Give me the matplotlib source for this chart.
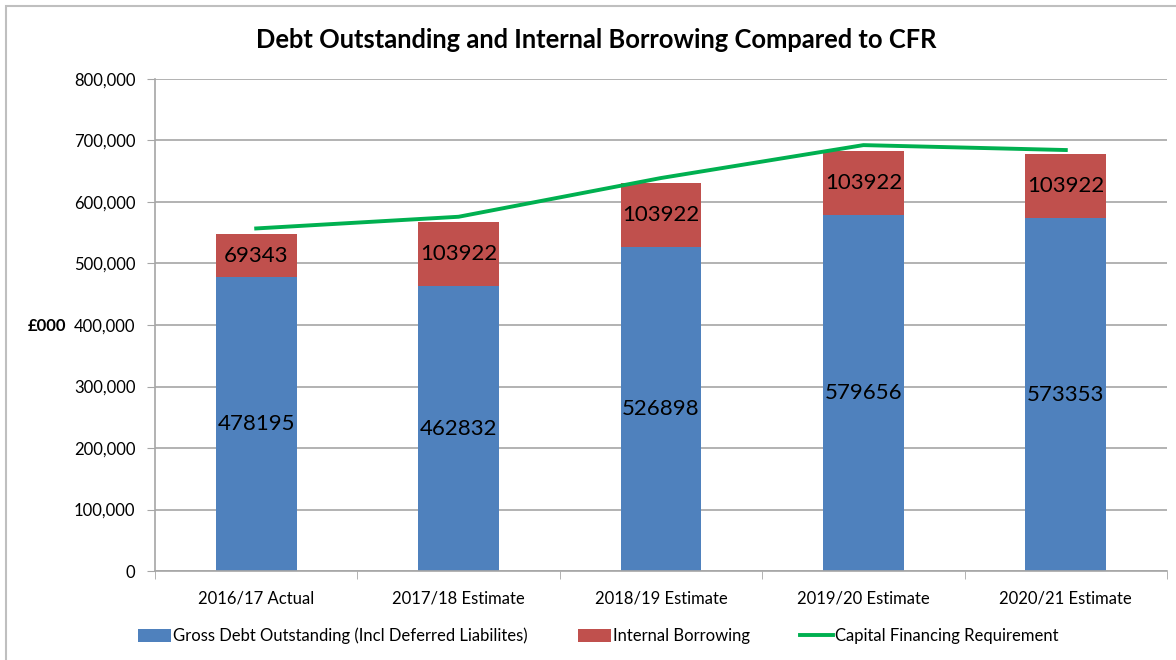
import matplotlib
matplotlib.use("Agg")
import matplotlib.pyplot as plt
from matplotlib.patches import Rectangle
from matplotlib.lines import Line2D
import numpy as np

categories = ["2016/17 Actual", "2017/18 Estimate", "2018/19 Estimate", "2019/20 Estimate", "2020/21 Estimate"]
gross_debt = [478195, 462832, 526898, 579656, 573353]
internal_borrowing = [69343, 103922, 103922, 103922, 103922]
cfr = [557000, 576000, 639000, 692500, 684500]

BLUE = "#4F81BD"
RED = "#C0504D"
GREEN = "#00B050"
FONT = "Lato"

plt.rcParams['font.family'] = [FONT, 'DejaVu Sans']

W, H = 1176, 660
fig = plt.figure(figsize=(W / 100, H / 100), dpi=100)
ax = fig.add_axes([155 / W, 1 - 571 / H, (1167 - 155) / W, (571 - 79) / H])

x = np.arange(len(categories))
bw = 0.4
b1 = ax.bar(x, gross_debt, bw, color=BLUE, label="Gross Debt Outstanding (Incl Deferred Liabilites)", zorder=2)
b2 = ax.bar(x, internal_borrowing, bw, bottom=gross_debt, color=RED, label="Internal Borrowing", zorder=2)
l1, = ax.plot(x, cfr, color=GREEN, lw=2.8, label="Capital Financing Requirement", zorder=3)

for i in range(len(categories)):
    ax.text(x[i], gross_debt[i] / 2, str(gross_debt[i]), ha="center", va="center", fontsize=16, zorder=4)
    ax.text(x[i], gross_debt[i] + internal_borrowing[i] / 2, str(internal_borrowing[i]),
            ha="center", va="center", fontsize=16, zorder=4)

ax.set_xlim(-0.5, len(categories) - 0.5)
ax.set_ylim(0, 800000)
ax.set_yticks(np.arange(0, 800001, 100000))
ax.set_yticklabels([f"{v:,}" for v in range(0, 800001, 100000)], fontsize=12)
ax.yaxis.grid(True, color="#A6A6A6", lw=1.2, zorder=0)
ax.set_axisbelow(True)

ax.set_xticks(x)
ax.set_xticklabels(categories, fontsize=12)
ax.tick_params(axis="x", length=0, pad=14)
ax.set_xticks(np.arange(-0.5, len(categories), 1), minor=True)
ax.tick_params(axis="x", which="minor", length=6, color="#A6A6A6", direction="out")
ax.tick_params(axis="y", length=6, color="#A6A6A6", direction="out", pad=8)

for s in ["top", "right"]:
    ax.spines[s].set_visible(False)
for s in ["left", "bottom"]:
    ax.spines[s].set_color("#A6A6A6")
    ax.spines[s].set_linewidth(1.2)

fig.text(596 / W, 1 - 40 / H, "Debt Outstanding and Internal Borrowing Compared to CFR",
         ha="center", va="center", fontsize=18.4, fontweight="bold")
fig.text(47 / W, 1 - 326 / H, "£000", ha="center", va="center", fontsize=12, fontweight="bold")

leg = fig.legend(handles=[b1, b2, l1], loc="center", bbox_to_anchor=(598 / W, 1 - 636 / H), ncol=3,
                 frameon=False, fontsize=12, handlelength=2.0, handleheight=0.8,
                 handletextpad=0.1, columnspacing=3.0)

fig.patches.append(Rectangle((6 / W, -0.05), 1.1, 1 - 6 / H + 0.05, transform=fig.transFigure,
                             fill=False, edgecolor="#BFBFBF", lw=1.5))

fig.savefig("out.png", dpi=100)
